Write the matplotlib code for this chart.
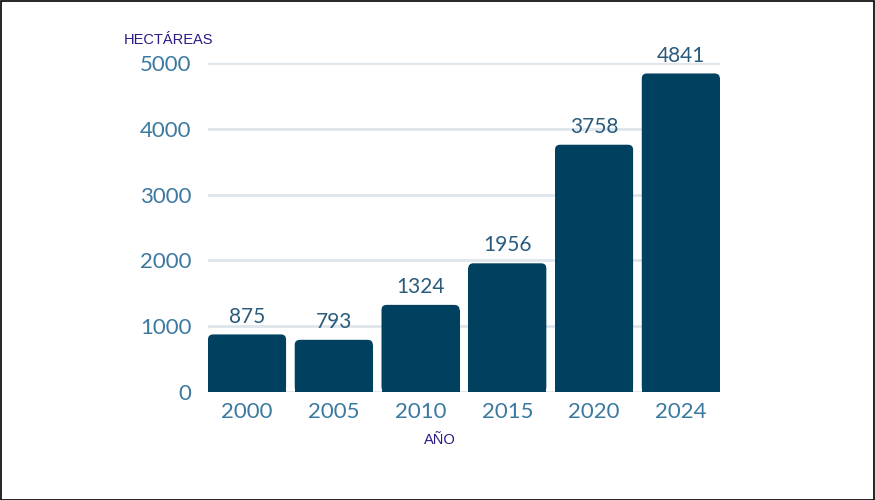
import matplotlib.pyplot as plt
from matplotlib.patches import Rectangle, FancyBboxPatch

years = ['2000', '2005', '2010', '2015', '2020', '2024']
hectares = [875, 793, 1324, 1956, 3758, 4841]
y_ticks = [0, 1000, 2000, 3000, 4000, 5000]

bar_color = '#00415f'
tick_color = '#3b79a0'
label_color = '#2b5b7c'
title_color = '#2a1a86'

fig = plt.figure(figsize=(8.75, 5), dpi=100)
ax = fig.add_axes([0.2377, 0.216, 0.585, 0.658])

x = range(len(years))
bars = ax.bar(x, hectares, width=0.9, color=bar_color, zorder=3)

# rounded top corners: replace each bar with a rounded box plus a square base
r_x, r_y = 0.06, 76
for bar in bars:
    bx, bw, bh = bar.get_x(), bar.get_width(), bar.get_height()
    bar.set_visible(False)
    ax.add_patch(FancyBboxPatch((bx, 0), bw, bh,
                                boxstyle=f'round,pad=0,rounding_size={r_x}',
                                mutation_aspect=r_y / r_x,
                                facecolor=bar_color, edgecolor='none', zorder=3))
    ax.add_patch(Rectangle((bx, 0), bw, bh - r_y, facecolor=bar_color,
                           edgecolor='none', zorder=3))

# value labels above bars
for bar, val in zip(bars, hectares):
    ax.text(bar.get_x() + bar.get_width() / 2, val + 120, str(val),
            ha='center', va='bottom', fontsize=15, color=label_color,
            family='Lato', zorder=4)

ax.set_xlim(-0.45, len(years) - 0.55)
ax.set_ylim(0, 5000)
ax.set_yticks(y_ticks)
ax.set_xticks(list(x))
ax.set_xticklabels(years)
ax.grid(axis='y', color='#dde6ec', linewidth=2, zorder=0)
ax.set_axisbelow(True)
for s in ax.spines.values():
    s.set_visible(False)
ax.tick_params(length=0, labelsize=16, colors=tick_color)
ax.tick_params(axis='y', pad=12)
ax.tick_params(axis='x', pad=7)
for lab in ax.get_xticklabels() + ax.get_yticklabels():
    lab.set_family('Lato')

fig.text(124 / 875, 1 - 40 / 500, 'HECTÁREAS', ha='left', va='center',
         fontsize=10.5, color=title_color, family='Liberation Sans')
fig.text(440 / 875, 1 - 440 / 500, 'AÑO', ha='center', va='center',
         fontsize=10.5, color=title_color, family='Liberation Sans')

# black frame around the image
fig.patches.append(Rectangle((0.0006, 0.001), 0.9983, 0.997, transform=fig.transFigure,
                             fill=False, edgecolor='black', linewidth=1.2))

fig.savefig('out.png', dpi=100)
